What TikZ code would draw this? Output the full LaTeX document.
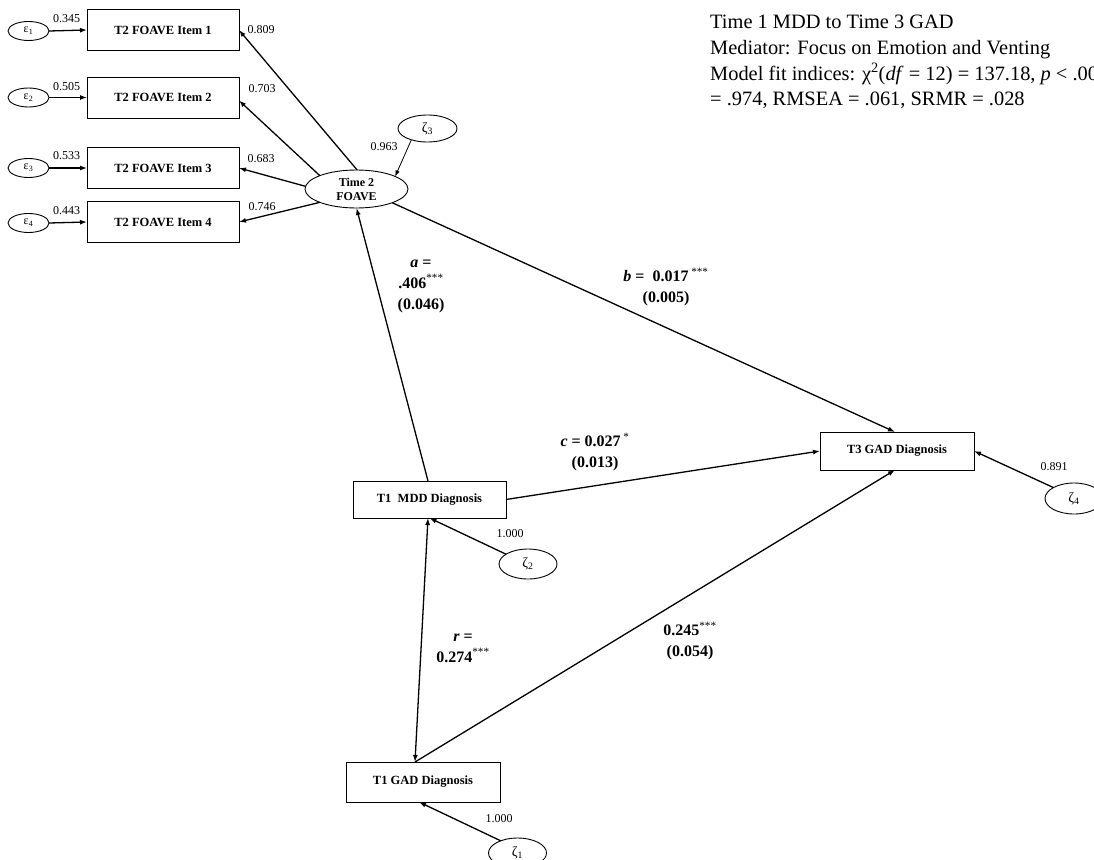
\documentclass[tikz,border=0pt]{standalone}
\usepackage{fontspec}
\setmainfont{Liberation Serif}
\usetikzlibrary{arrows.meta,shapes.geometric}
\tikzset{
 box/.style={draw, line width=0.9pt, minimum width=152pt, minimum height=41pt, inner sep=0pt, outer sep=0pt, font=\bfseries\fontsize{12.5}{14}\selectfont},
 lat/.style={draw, ellipse, line width=0.9pt, inner sep=0pt, outer sep=0pt, font=\fontsize{12}{14}\selectfont},
 arr/.style={-{Latex[length=7pt,width=5pt]}, line width=1.3pt},
 thinarr/.style={-{Latex[length=6pt,width=4.5pt]}, line width=0.8pt},
 dblarr/.style={{Latex[length=7pt,width=5pt]}-{Latex[length=7pt,width=5pt]}, line width=1.3pt},
 num/.style={font=\fontsize{12}{14}\selectfont, inner sep=0pt},
 plab/.style={font=\bfseries\fontsize{16}{21}\selectfont, inner sep=0pt, align=center},
 ttl/.style={font=\fontsize{20.4}{25}\selectfont, anchor=base west, inner sep=0pt}
}
\newcommand{\sigstar}[1]{\textsuperscript{\normalfont #1}}
\begin{document}
\begin{tikzpicture}[x=1pt,y=-1pt]
\useasboundingbox (0,0) rectangle (1094,859);
\clip (0,0) rectangle (1094,859);
% title
\node[ttl] (tl1) at (710,29) {Time 1 MDD to Time 3 GAD};
\node[ttl] (tl2) at (710,54.5) {Mediator: Focus on Emotion and Venting};
\node[ttl] (tl3) at (710,80) {Model fit indices: χ\textsuperscript{2}(\textit{df} = 12) = 137.18, \textit{p} < .00};
\node[ttl] (tl4) at (710,105.5) {= .974, RMSEA = .061, SRMR = .028};
% measurement items
\node[box] (i1) at (163,30) {T2 FOAVE Item 1};
\node[box] (i2) at (163,97.5) {T2 FOAVE Item 2};
\node[box] (i3) at (163,168) {T2 FOAVE Item 3};
\node[box] (i4) at (163,222) {T2 FOAVE Item 4};
\node[lat, minimum width=41pt, minimum height=19pt] (e1) at (28.5,31) {ε\textsubscript{1}};
\node[lat, minimum width=41pt, minimum height=19pt] (e2) at (28.5,97.5) {ε\textsubscript{2}};
\node[lat, minimum width=41pt, minimum height=19pt] (e3) at (28.5,168) {ε\textsubscript{3}};
\node[lat, minimum width=41pt, minimum height=19pt] (e4) at (28.5,223) {ε\textsubscript{4}};
\draw[arr] (e1.east) -- (i1.west);
\draw[arr] (e2.east) -- (i2.west);
\draw[arr] (e3.east) -- (i3.west);
\draw[arr] (e4.east) -- (i4.west);
\node[num] (n1) at (66.5,19) {0.345};
\node[num] (n2) at (66.5,87) {0.505};
\node[num] (n3) at (66.5,156) {0.533};
\node[num] (n4) at (66.5,211) {0.443};
% latent
\node[lat, minimum width=103pt, minimum height=38pt, align=center, font=\bfseries\fontsize{12}{14}\selectfont] (fo) at (356.5,189) {Time 2\\FOAVE};
\node[lat, minimum width=59pt, minimum height=27pt, font=\fontsize{14}{16}\selectfont] (z3) at (427.5,128.5) {ζ\textsubscript{3}};
\draw[arr] (fo.88) -- (i1.east);
\draw[arr] (fo.160) -- ([yshift=-3pt]i2.east);
\draw[arr] (fo.177) -- (i3.east);
\draw[arr] (fo.200) -- (i4.east);
\draw[thinarr] (z3.215) -- (fo.18);
\node[num] (l1) at (261,30) {0.809};
\node[num] (l2) at (262,89) {0.703};
\node[num] (l3) at (261,159) {0.683};
\node[num] (l4) at (262,207) {0.746};
\node[num] (l5) at (384,147) {0.963};
% observed
\node[box, minimum width=153pt, minimum height=37pt] (mdd) at (429.5,499.5) {T1\ \ MDD Diagnosis};
\node[box, minimum width=154pt, minimum height=40pt] (gad1) at (423,782) {T1 GAD Diagnosis};
\node[box, minimum width=154pt, minimum height=38pt] (t3) at (897,451) {T3 GAD Diagnosis};
\node[lat, minimum width=58pt, minimum height=30pt, font=\fontsize{14}{16}\selectfont] (z2) at (528,564) {ζ\textsubscript{2}};
\node[lat, minimum width=58pt, minimum height=30pt, font=\fontsize{14}{16}\selectfont] (z1) at (517.5,853) {ζ\textsubscript{1}};
\node[lat, minimum width=58pt, minimum height=31pt, font=\fontsize{14}{16}\selectfont] (z4) at (1074,498.5) {ζ\textsubscript{4}};
% structural paths
\draw[arr] ([xshift=-1.5pt]mdd.north) -- (fo.south);
\draw[arr] (fo.339) -- ([xshift=-2pt]t3.north);
\draw[arr] (mdd.east) -- (t3.west);
\draw[arr] ([xshift=-8pt]gad1.north) -- ([xshift=-2pt]t3.south);
\draw[dblarr] ([xshift=-8pt]gad1.north) -- ([xshift=-1.5pt]mdd.south);
\draw[arr] (z2.156) -- (mdd.south);
\draw[arr] (z1.144) -- ([xshift=-4pt]gad1.south);
\draw[arr] (z4.152) -- (t3.east);
\node[num] (l6) at (510,534) {1.000};
\node[num] (l7) at (499,819) {1.000};
\node[num] (l8) at (1054,467) {0.891};
% path labels
\node[plab] (pa) at (421,286) {\textit{a} =\\.406\sigstar{***}\\(0.046)};
\node[plab] (pb) at (666,287) {\textit{b} =\ \ 0.017\,\sigstar{***}\\(0.005)};
\node[plab] (pc) at (595,452) {\textit{c} = 0.027\,\sigstar{*}\\(0.013)};
\node[plab] (pr) at (463,648) {\textit{r} =\\0.274\sigstar{***}};
\node[plab] (pg) at (690,641) {0.245\sigstar{***}\\(0.054)};
\end{tikzpicture}
\end{document}
